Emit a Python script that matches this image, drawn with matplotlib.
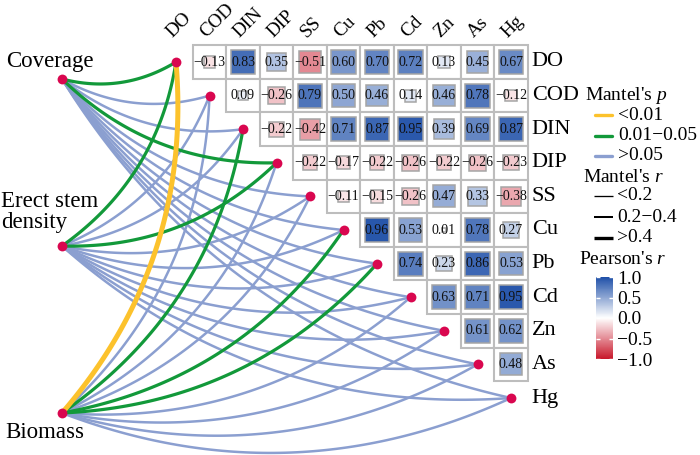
import numpy as np
import matplotlib
matplotlib.use('Agg')
import matplotlib.pyplot as plt
from matplotlib.colors import LinearSegmentedColormap, Normalize
from matplotlib.patches import Rectangle
from matplotlib.lines import Line2D
import matplotlib.cm as cm

plt.rcParams['font.family'] = ['Liberation Serif', 'DejaVu Serif']
plt.rcParams['mathtext.fontset'] = 'custom'
plt.rcParams['mathtext.rm'] = 'Liberation Serif'
plt.rcParams['mathtext.it'] = 'Liberation Serif:italic'
plt.rcParams['axes.unicode_minus'] = True

# ---------------- data ----------------
variables = ['DO', 'COD', 'DIN', 'DIP', 'SS', 'Cu', 'Pb', 'Cd', 'Zn', 'As', 'Hg']
env_factors = ['Coverage', 'Erect stem\ndensity', 'Biomass']

# Pearson's r, upper triangle: row variable vs the variables after it
r_DO = [-0.13, 0.83, 0.35, -0.51, 0.60, 0.70, 0.72, 0.13, 0.45, 0.67]
r_COD = [0.09, -0.26, 0.79, 0.50, 0.46, 0.14, 0.46, 0.78, -0.12]
r_DIN = [-0.22, -0.42, 0.71, 0.87, 0.95, 0.39, 0.69, 0.87]
r_DIP = [-0.22, -0.17, -0.22, -0.26, -0.22, -0.26, -0.23]
r_SS = [-0.11, -0.15, -0.26, 0.47, 0.33, -0.38]
r_Cu = [0.96, 0.53, 0.01, 0.78, 0.27]
r_Pb = [0.74, 0.23, 0.86, 0.53]
r_Cd = [0.63, 0.71, 0.95]
r_Zn = [0.61, 0.62]
r_As = [0.48]
r_Hg = []
pearson_rows = [r_DO, r_COD, r_DIN, r_DIP, r_SS, r_Cu, r_Pb, r_Cd, r_Zn, r_As, r_Hg]

# Mantel test (estimated from line colour / width): rows = env factors, cols = variables
mantel_p_coverage = [0.03, 0.35, 0.42, 0.04, 0.51, 0.28, 0.37, 0.46, 0.60, 0.33, 0.57]
mantel_p_erect = [0.02, 0.44, 0.29, 0.03, 0.38, 0.50, 0.43, 0.27, 0.55, 0.62, 0.48]
mantel_p_biomass = [0.004, 0.21, 0.02, 0.18, 0.35, 0.04, 0.03, 0.12, 0.26, 0.31, 0.40]
mantel_r_coverage = [0.28, 0.12, 0.10, 0.26, 0.08, 0.11, 0.09, 0.07, 0.05, 0.10, 0.06]
mantel_r_erect = [0.31, 0.09, 0.12, 0.29, 0.10, 0.07, 0.08, 0.12, 0.06, 0.05, 0.08]
mantel_r_biomass = [0.45, 0.14, 0.30, 0.15, 0.10, 0.27, 0.29, 0.16, 0.12, 0.11, 0.09]
mantel_p = [mantel_p_coverage, mantel_p_erect, mantel_p_biomass]
mantel_r = [mantel_r_coverage, mantel_r_erect, mantel_r_biomass]

# ---------------- layout / style ----------------
W, H = 700, 455
x0, y0 = 176.0, 62.0          # centre of the (DO, DO) cell
cw, ch = 33.5, 33.6           # cell size
env_x = 62.0
env_y = [79.0, 246.0, 413.0]

cmap = LinearSegmentedColormap.from_list('pr', ['#c8172a', '#ffffff', '#1f50a8'])
norm = Normalize(-1, 1)

p_colors = {'lt01': '#fcc22c', 'mid': '#12993a', 'gt05': '#8b9fd0'}
def p_cat(p):
    return 'lt01' if p < 0.01 else ('mid' if p <= 0.05 else 'gt05')
def r_width(r):
    return 1.8 if r < 0.2 else (2.3 if r <= 0.4 else 3.6)

fig = plt.figure(figsize=(W / 100, H / 100), dpi=100)
ax = fig.add_axes([0, 0, 1, 1])
ax.set_xlim(0, W)
ax.set_ylim(H, 0)
ax.axis('off')

def cx(j):
    return x0 + cw * j
def cy(i):
    return y0 + ch * i

def minus(s):
    return s.replace('-', '\u2212')

# heatmap
for i, row in enumerate(pearson_rows):
    for k, v in enumerate(row):
        j = i + 1 + k
        xc, yc = cx(j), cy(i)
        ax.add_patch(Rectangle((xc - cw / 2, yc - ch / 2), cw, ch, facecolor='white',
                               edgecolor='#bdbdbd', lw=1.5, zorder=2))
        side = min(0.95 * np.sqrt(abs(v)), 0.72)
        sw, sh = side * cw, side * ch
        ax.add_patch(Rectangle((xc - sw / 2, yc - sh / 2), sw, sh, facecolor=cmap(norm(v)),
                               edgecolor='#a5a5a5', lw=1.1, zorder=3))
        ax.text(xc, yc, minus(f'{v:.2f}'), ha='center', va='center', fontsize=10,
                color='#111111', zorder=4)

# row labels (right) and column labels (top)
for i, name in enumerate(variables):
    ax.text(cx(10) + cw / 2 + 4, cy(i), name, ha='left', va='center', fontsize=16, zorder=5)
    ax.text(cx(i) - 3.5, cy(0) - ch / 2 - 7.5, name, ha='left', va='baseline', rotation=45,
            rotation_mode='anchor', fontsize=13.8, zorder=5)

# Mantel links
def curve(p0, p1, frac=0.21, n=80):
    p0 = np.asarray(p0, float); p1 = np.asarray(p1, float)
    d = p1 - p0
    L = np.hypot(*d)
    perp = np.array([-d[1], d[0]]) / L
    c = (p0 + p1) / 2 + frac * L * perp
    t = np.linspace(0, 1, n)[:, None]
    return (1 - t) ** 2 * p0 + 2 * (1 - t) * t * c + t ** 2 * p1

order = {'gt05': 0, 'mid': 1, 'lt01': 2}
links = []
for e in range(len(env_factors)):
    for j in range(len(variables)):
        links.append((order[p_cat(mantel_p[e][j])], e, j))
links.sort()
for lev, e, j in links:
    pts = curve((env_x, env_y[e]), (cx(j), cy(j)))
    cat = p_cat(mantel_p[e][j])
    ax.plot(pts[:, 0], pts[:, 1], color=p_colors[cat], lw=r_width(mantel_r[e][j]),
            solid_capstyle='butt', zorder=6 + lev)

# nodes
ax.scatter([cx(j) for j in range(len(variables))], [cy(j) for j in range(len(variables))],
           s=50, color='#d9074f', zorder=12, linewidths=0)
ax.scatter([env_x] * 3, env_y, s=50, color='#d9074f', zorder=12, linewidths=0)

# env labels
ax.text(50, 61, env_factors[0], ha='center', va='center', fontsize=16.5)
ax.text(1, 212, env_factors[1], ha='left', va='center', fontsize=16.5, linespacing=1.0)
ax.text(45, 432, env_factors[2], ha='center', va='center', fontsize=16.5)

# legend: Mantel's p
ax.text(585, 96, "Mantel's $p$", ha='left', va='center', fontsize=14)
p_labels = ['<0.01', '0.01\u22120.05', '>0.05']
p_keys = ['lt01', 'mid', 'gt05']
for k, (lab, key) in enumerate(zip(p_labels, p_keys)):
    yy = 115 + 20.5 * k
    ax.add_line(Line2D([595, 612], [yy, yy], color=p_colors[key], lw=2.4,
                       solid_capstyle='round'))
    ax.text(618, yy, lab, ha='left', va='center', fontsize=14)

# legend: Mantel's r
ax.text(583, 177, "Mantel's $r$", ha='left', va='center', fontsize=14)
r_labels = ['<0.2', '0.2\u22120.4', '>0.4']
r_leg_w = [0.95, 1.45, 2.4]
for k, (lab, lw) in enumerate(zip(r_labels, r_leg_w)):
    yy = 196 + 21 * k
    ax.add_line(Line2D([594, 613], [yy, yy], color='black', lw=lw, solid_capstyle='butt'))
    ax.text(617, yy, lab, ha='left', va='center', fontsize=14)

# legend: Pearson's r colour bar
ax.text(579, 259, "Pearson's $r$", ha='left', va='center', fontsize=14)
cax = fig.add_axes([596 / W, 1 - 359 / H, 17 / W, 82 / H])
sm = cm.ScalarMappable(norm=norm, cmap=cmap)
cb = fig.colorbar(sm, cax=cax, ticks=[-1, -0.5, 0, 0.5, 1])
cb.outline.set_visible(False)
cb.ax.set_yticklabels([minus(f'{t:.1f}') for t in [-1, -0.5, 0, 0.5, 1]])
cb.ax.tick_params(direction='in', color='white', length=3, width=1, left=True, right=True,
                  labelsize=14, pad=3)

fig.savefig('out.png', dpi=100)
